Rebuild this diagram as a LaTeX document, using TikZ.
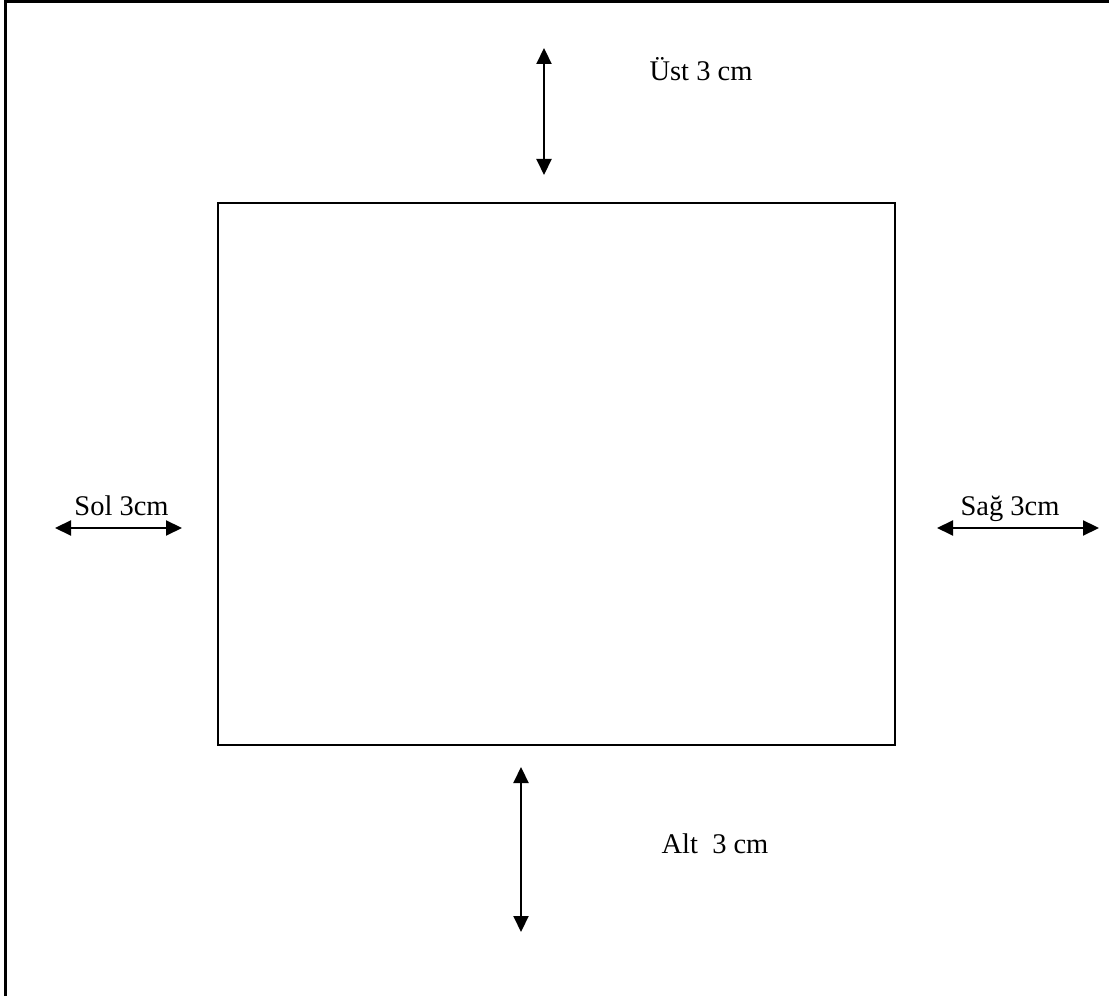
\documentclass[tikz,border=0pt]{standalone}
\usepackage{fontspec}
\setmainfont{Liberation Serif}
\usetikzlibrary{arrows.meta}
\usetikzlibrary{positioning}
\tikzset{margin arrow/.style={{Triangle[width=0.3cm,length=0.32cm]}-{Triangle[width=0.3cm,length=0.32cm]}, line width=1.2pt}}
\tikzset{margin label/.style={font=\fontsize{16.2}{19}\selectfont, inner sep=0pt, anchor=base}}

\begin{document}
\begin{tikzpicture}
  \useasboundingbox (0,0) rectangle (22.18,19.92);
  % page frame (only top and left edges show)
  \draw [line width=1.7pt] (0.11,0) -- (0.11,19.88) -- (22.18,19.88);
  % text area
  \draw [line width=1.1pt] (4.36,5.02) rectangle (17.9,15.86);

  \coordinate (top a) at (10.88,18.96);
  \coordinate (top b) at (10.88,16.42);
  \coordinate (bot a) at (10.42,4.58);
  \coordinate (bot b) at (10.42,1.28);
  \coordinate (left a) at (1.1,9.36);
  \coordinate (left b) at (3.64,9.36);
  \coordinate (right a) at (18.74,9.36);
  \coordinate (right b) at (21.98,9.36);

  \draw [margin arrow] (top a) -- (top b);
  \draw [margin arrow] (bot a) -- (bot b);
  \draw [margin arrow] (left a) -- (left b);
  \draw [margin arrow] (right a) -- (right b);

  \node [margin label] (ust) at (14.02,18.3) {Üst 3 cm};
  \node [margin label] (alt) at (14.3,2.86) {Alt~~3 cm};
  \node [margin label] (sol) at (2.43,9.6) {Sol 3cm};
  \node [margin label] (sag) at (20.2,9.6) {Sağ 3cm};
\end{tikzpicture}
\end{document}
